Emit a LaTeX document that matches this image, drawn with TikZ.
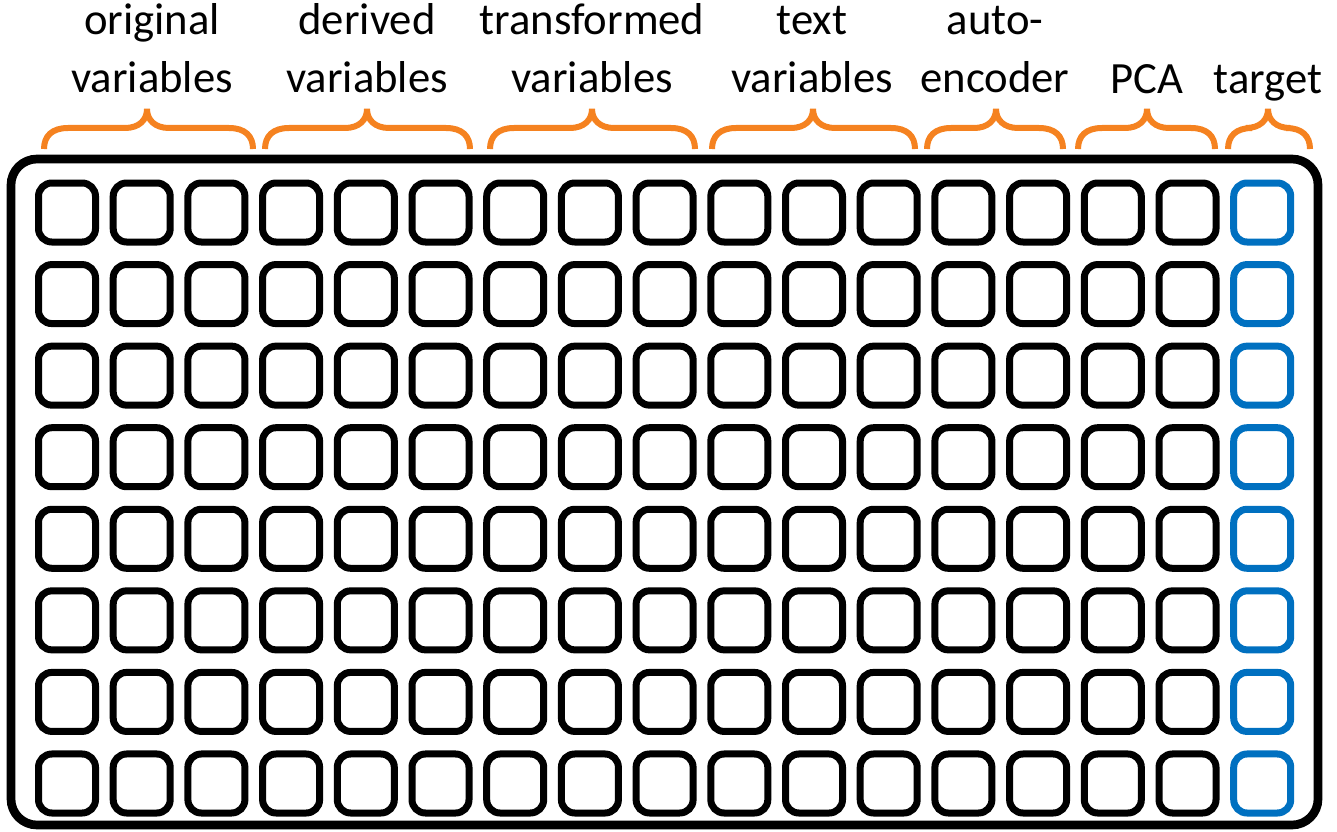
\documentclass[tikz,border=0pt]{standalone}
\usepackage{fontspec}
\setmainfont{Carlito}
\definecolor{braceorange}{RGB}{245,130,32}
\definecolor{targetblue}{RGB}{0,112,192}
\begin{document}
\begin{tikzpicture}[x=0.75pt,y=-0.75pt,
  cell/.style={draw=black,line width=5.25pt,rounded corners=10pt,minimum width=42.75pt,minimum height=44.25pt,inner sep=0pt},
  targetcell/.style={cell,draw=targetblue},
  frame/.style={draw=black,line width=6.5pt,rounded corners=19.5pt,minimum width=980.25pt,minimum height=499.5pt,inner sep=0pt},
  bracepath/.style={draw=braceorange,line width=4.5pt},
  lab/.style={font=\fontsize{33.5pt}{43.5pt}\selectfont,align=center,anchor=base,inner sep=0pt}]
\useasboundingbox (0,0) rectangle (1337,831);
\node[frame] (frame) at (664.5,492) {};
\foreach \r in {1,...,8}{
  \foreach \c in {1,...,16}{
    \node[cell] (c-\r-\c) at ({67+(\c-1)*74.7},{212.5+(\r-1)*81.57}) {};
  }
  \node[targetcell] (c-\r-17) at ({67+16*74.7},{212.5+(\r-1)*81.57}) {};
}
\foreach \xa/\xm/\xb in {44/147/253, 265/367/470, 490/592/695, 712/813/915, 927/996/1063, 1078/1147/1215, 1228/1268/1310}{
  \draw[bracepath] (\xa,149) .. controls (\xa,136) and (\xa+8,128) .. (\xa+24,128)
    -- (\xm-22,128) .. controls (\xm-8,128) and (\xm,120) .. (\xm,109)
    .. controls (\xm,120) and (\xm+8,128) .. (\xm+22,128)
    -- (\xb-24,128) .. controls (\xb-8,128) and (\xb,136) .. (\xb,149);
}
\node[lab] (lorig) at (152,93) {original\\variables};
\node[lab] (lderiv) at (367,93) {derived\\variables};
\node[lab] (ltrans) at (592,93) {transformed\\variables};
\node[lab] (ltext) at (812,93) {text\\variables};
\node[lab] (lauto) at (995,93) {auto-\\encoder};
\node[lab] (lpca) at (1147,94) {PCA};
\node[lab] (ltarget) at (1268,94) {target};
\end{tikzpicture}
\end{document}
